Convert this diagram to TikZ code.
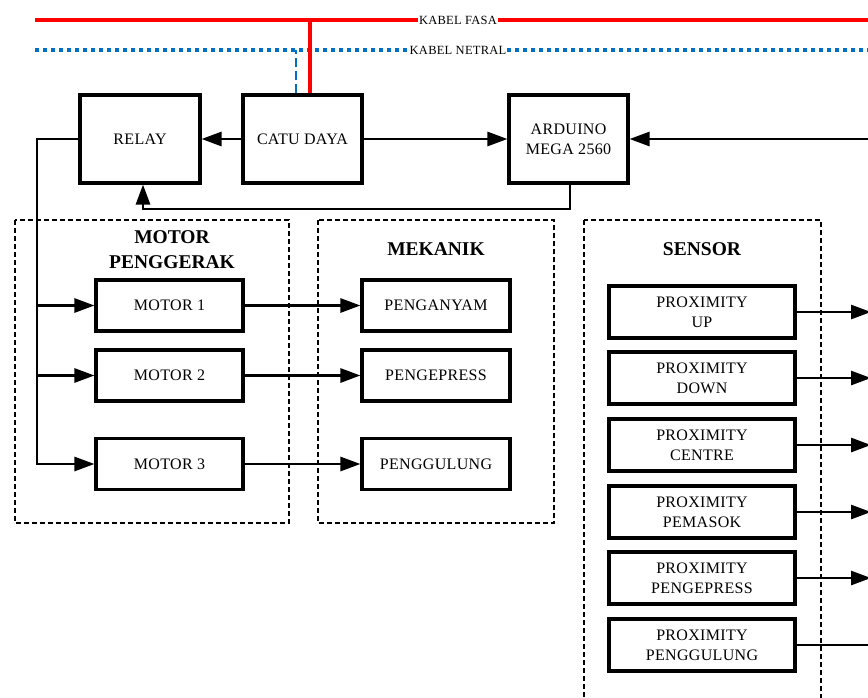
\documentclass[tikz,border=0pt]{standalone}
\usepackage{fontspec}
\setmainfont{Liberation Serif}
\usetikzlibrary{arrows.meta}
\definecolor{netblue}{RGB}{0,112,192}
\newfontfamily\spaced[LetterSpace=2]{Liberation Serif}
\begin{document}
\begin{tikzpicture}[x=1pt,y=-1pt,
  blok/.style={draw,line width=3.1pt,align=center,inner sep=1pt,
    font=\spaced\fontsize{16}{20}\selectfont},
  conn/.style={line width=2.7pt},
  tip/.style={-{Triangle[length=20pt,width=14pt]}},
  grup/.style={line width=2.7pt,dash pattern=on 5pt off 3pt},
  judul/.style={font=\bfseries\fontsize{19.5}{25}\selectfont,align=center},
  kabel/.style={fill=white,inner sep=1pt,font=\spaced\fontsize{12.5}{14}\selectfont}]
\useasboundingbox (0,0) rectangle (868,697);

% supply lines
\coordinate (fasaL) at (35,20);  \coordinate (fasaR) at (868,20);
\coordinate (netL) at (35,50);   \coordinate (netR) at (868,50);
\draw[red,line width=3.2pt] (fasaL) -- (fasaR);
\draw[netblue,line width=3.2pt,dash pattern=on 4pt off 4pt] (netL) -- (netR);

% main blocks
\node[blok,minimum width=120,minimum height=88] (relay) at (140,139) {RELAY};
\node[blok,minimum width=119,minimum height=88] (catu) at (302.5,139) {CATU DAYA};
\node[blok,minimum width=119,minimum height=88] (ard) at (568.5,139) {ARDUINO\\MEGA 2560};

% feeds from the supply lines
\draw[red,line width=3.2pt] (catu.north -| 310,0) -- (310,20);
\draw[netblue,line width=2.7pt,dash pattern=on 9pt off 4pt] (catu.north -| 296,0) -- (296,50);

\node[kabel] (lfasa) at (458,20) {KABEL FASA};
\node[kabel] (lnet) at (458,50) {KABEL NETRAL};

% groups
\draw[grup] (15,220) rectangle (289,523);
\draw[grup] (318,220) rectangle (554,523);
\draw[grup] (584,220) rectangle (821,705);
\node[judul] (tmotor) at (172,250) {MOTOR\\PENGGERAK};
\node[judul] (tmek) at (436,249) {MEKANIK};
\node[judul] (tsens) at (702,249) {SENSOR};

% motors and mechanics
\foreach \n/\y/\m/\k in {1/305.5/MOTOR 1/PENGANYAM,2/375.5/MOTOR 2/PENGEPRESS,3/464/MOTOR 3/PENGGULUNG}{
  \node[blok,minimum width=147,minimum height=51] (m\n) at (169.5,\y) {\m};
  \node[blok,minimum width=148,minimum height=51] (k\n) at (436,\y) {\k};
  \draw[conn,tip] (m\n.east) -- (k\n.east -| k\n.west);
}

% sensors
\foreach \n/\y/\s in {1/312/UP,2/378/DOWN,3/445/CENTRE,4/512/PEMASOK,5/578/PENGEPRESS,6/645/PENGGULUNG}{
  \node[blok,minimum width=186,minimum height=52] (s\n) at (702,\y) {PROXIMITY\\\s};
  \coordinate (o\n) at (871,\y);
}
\foreach \n in {1,...,5}{\draw[conn,tip] (s\n.east) -- (o\n);}
\draw[conn] (s6.east) -- (o6);

% power and control connections
\draw[conn,tip] (catu.west) -- (relay.east);
\draw[conn,tip] (catu.east) -- (ard.west);
\coordinate (inR) at (868,139);
\draw[conn,tip] (inR) -- (ard.east);
\coordinate (fbR) at (570,209);
\coordinate (fbL) at (143,209);
\draw[conn,tip] (ard.south -| fbR) -- (fbR) -- (fbL) -- (relay.south -| fbL);

% relay bus to the motors
\coordinate (busT) at (37,139);
\coordinate (busB) at (37,464);
\draw[conn,tip] (relay.west) -- (busT) -- (busB) -- (m3.west);
\draw[conn,tip] (busT |- m1.west) -- (m1.west);
\draw[conn,tip] (busT |- m2.west) -- (m2.west);
\end{tikzpicture}
\end{document}
